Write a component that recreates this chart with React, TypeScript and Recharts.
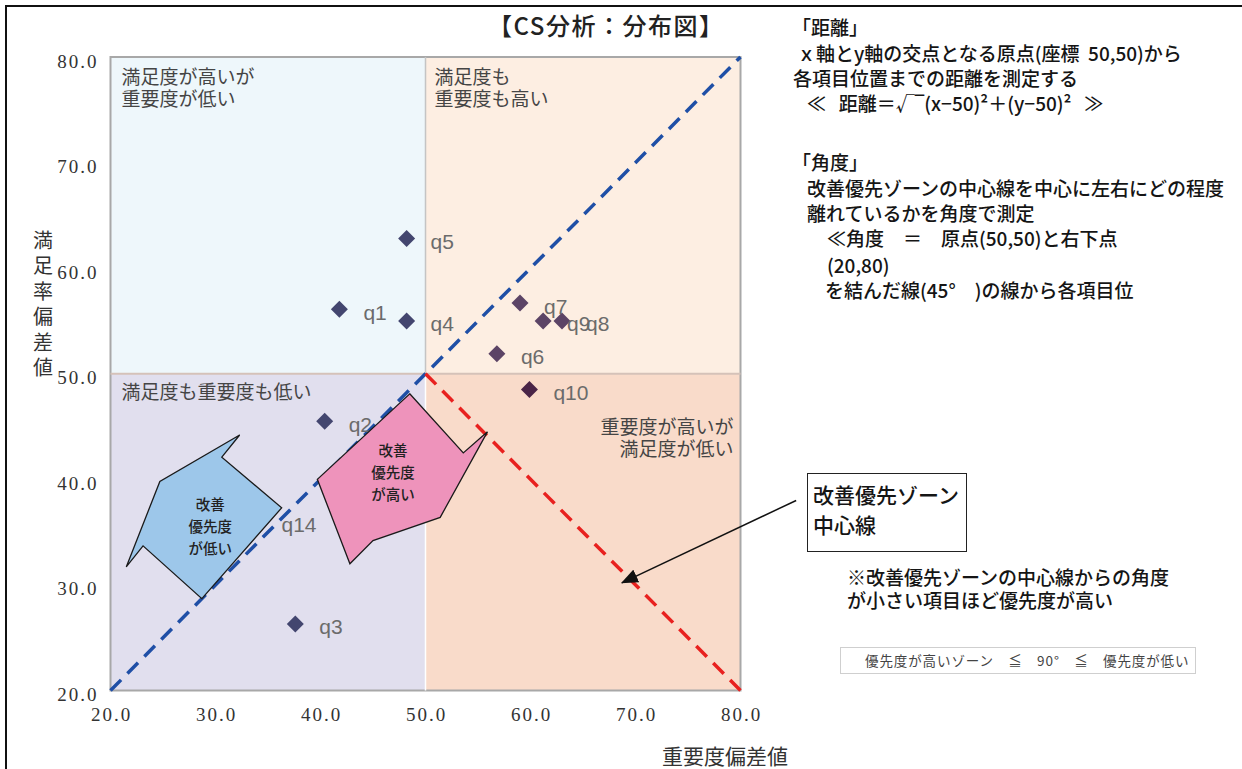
import { ScatterChart, Scatter, XAxis, YAxis, ReferenceArea, ReferenceLine } from 'recharts'

const X_MIN = 20
const X_MAX = 80
const Y_MIN = 20
const Y_MAX = 80
const MID = 50
const axisTicks = [20, 30, 40, 50, 60, 70, 80]

// 重要度 (x) / 満足率 (y) deviation values per item
const itemNames = ['q1', 'q2', 'q3', 'q4', 'q5', 'q6', 'q7', 'q8', 'q9', 'q10', 'q14']
const importance = [41.8, 40.4, 37.6, 48.2, 48.2, 56.8, 59.0, 63.0, 61.2, 59.9, 34.0]
const satisfaction = [56.1, 45.5, 26.3, 55.0, 62.8, 51.9, 56.7, 55.0, 55.0, 48.5, 36.0]

// block arrows, in axis units
const lowArrowOutline: [number, number][] = [
    [32.3, 44.2], [30.6, 42.1], [36.3, 37.3], [28.7, 28.7], [23.1, 33.7], [21.5, 31.7], [24.7, 39.8],
]
const highArrowOutline: [number, number][] = [
    [48.5, 48.1], [53.6, 42.5], [55.9, 44.5], [51.4, 36.4], [45.0, 34.2], [42.8, 32.0], [39.7, 40.0],
]
const lowArrowText = ['改善', '優先度', 'が低い']
const highArrowText = ['改善', '優先度', 'が高い']
const lowArrowTextAt: [number, number] = [29.5, 35.6]
const highArrowTextAt: [number, number] = [46.9, 40.7]

// callout pointing at the zone centre line
const calloutFrom: [number, number] = [85.3, 38.0]
const calloutTo: [number, number] = [68.7, 30.2]

const quadrantTopLeft = ['満足度が高いが', '重要度が低い']
const quadrantTopRight = ['満足度も', '重要度も高い']
const quadrantBottomLeft = ['満足度も重要度も低い']
const quadrantBottomRight = ['重要度が高いが', '満足度が低い']

const notesDistance = [
    '「距離」',
    'ｘ軸とy軸の交点となる原点(座標  50,50)から',
    '各項目位置までの距離を測定する',
    '≪   距離＝√‾(x−50)²＋(y−50)²   ≫',
]
const notesAngle = [
    '「角度」',
    '改善優先ゾーンの中心線を中心に左右にどの程度',
    '離れているかを角度で測定',
    '≪角度　＝　原点(50,50)と右下点',
    '(20,80)',
    'を結んだ線(45°　)の線から各項目位',
]

const chartData = itemNames.map((name, i) => ({ name, x: importance[i], y: satisfaction[i] }))

const JP = '"Noto Sans CJK JP", "Noto Sans", sans-serif'
const SERIF = '"Liberation Serif", "DejaVu Serif", serif'

const CHART_W = 1242
const CHART_H = 769
const chartMargin = { top: 57, right: 501.5, bottom: 48.5, left: 50.5 }

function markerColor(x: number, y: number): string {
    if (x < MID) return '#43466f'
    if (y >= MID) return '#5c4466'
    return '#4a2447'
}

function Diamond(props: any) {
    const { cx, cy, payload } = props
    const r = 8.5
    return (
        <polygon
            points={`${cx},${cy - r} ${cx + r},${cy} ${cx},${cy + r} ${cx - r},${cy}`}
            fill={markerColor(payload.x, payload.y)}
        />
    )
}

function ItemLabel(props: any) {
    const { cx, cy, payload } = props
    return (
        <text x={cx + 24} y={cy + 3} dominantBaseline="central" fontFamily='"Liberation Sans", Arial, sans-serif' fontSize={21} fill="#6b6b6b">
            {payload.name}
        </text>
    )
}

function NoMark() {
    return <g />
}

function XTick(props: any) {
    const { x, y, payload } = props
    return (
        <text x={x + 1} y={y + 16} textAnchor="middle" dominantBaseline="central" fontFamily={SERIF} fontSize={19} letterSpacing={2} fill="#333">
            {payload.value.toFixed(1)}
        </text>
    )
}

function YTick(props: any) {
    const { x, y, payload } = props
    return (
        <text x={x - 4} y={y + 4} textAnchor="end" dominantBaseline="central" fontFamily={SERIF} fontSize={19} letterSpacing={2} fill="#333">
            {payload.value.toFixed(1)}
        </text>
    )
}

function PlotOverlay(props: any) {
    const { x, y, width, height } = props
    const px = (v: number) => x + ((v - X_MIN) / (X_MAX - X_MIN)) * width
    const py = (v: number) => y + ((Y_MAX - v) / (Y_MAX - Y_MIN)) * height
    const toPoints = (outline: [number, number][]) => outline.map(([a, b]) => `${px(a)},${py(b)}`).join(' ')

    const quadText = (lines: string[], ax: number, ay: number, anchor: 'start' | 'end') =>
        lines.map((t, i) => (
            <text key={t} x={ax} y={ay + i * 22} textAnchor={anchor} dominantBaseline="central" fontFamily={JP} fontSize={19} fill="#454545">
                {t}
            </text>
        ))

    const arrowText = (lines: string[], at: [number, number]) =>
        lines.map((t, i) => (
            <text key={t} x={px(at[0])} y={py(at[1]) + (i - 1) * 22} textAnchor="middle" dominantBaseline="central" fontFamily={JP} fontSize={14.5} fontWeight={500} fill="#222">
                {t}
            </text>
        ))

    return (
        <g>
            <defs>
                <marker id="callout-tip" markerWidth={17} markerHeight={14} refX={16} refY={7} orient="auto" markerUnits="userSpaceOnUse">
                    <path d="M0,0 L17,7 L0,14 z" fill="#111" />
                </marker>
            </defs>
            {quadText(quadrantTopLeft, px(X_MIN) + 11, py(Y_MAX) + 18, 'start')}
            {quadText(quadrantTopRight, px(MID) + 9, py(Y_MAX) + 18, 'start')}
            {quadText(quadrantBottomLeft, px(X_MIN) + 11, py(MID) + 17, 'start')}
            {quadText(quadrantBottomRight, px(X_MAX) - 7, py(MID) + 52, 'end')}

            <polygon points={toPoints(lowArrowOutline)} fill="#9dc7ea" stroke="#1a1a1a" strokeWidth={1.3} />
            <polygon points={toPoints(highArrowOutline)} fill="#ee93bb" stroke="#1a1a1a" strokeWidth={1.3} />
            {arrowText(lowArrowText, lowArrowTextAt)}
            {arrowText(highArrowText, highArrowTextAt)}

            <line
                x1={px(calloutFrom[0])}
                y1={py(calloutFrom[1])}
                x2={px(calloutTo[0])}
                y2={py(calloutTo[1])}
                stroke="#111"
                strokeWidth={1.5}
                markerEnd="url(#callout-tip)"
            />
        </g>
    )
}

const abs = (left: number, top: number, extra: any = {}) => ({
    position: 'absolute' as const,
    left,
    top,
    whiteSpace: 'pre' as const,
    ...extra,
})

export default function App() {
    const noteStyle = { fontFamily: JP, fontSize: 19, fontWeight: 500, color: '#151515', lineHeight: '24px' }
    const distanceLeft = [792, 797, 793, 807]
    const distanceTop = [27, 53, 78, 103]
    const angleLeft = [792, 807, 807, 827, 827, 825]
    const angleTop = [162, 188, 213, 238, 265, 290]

    return (
        <div style={{ position: 'absolute', left: 0, top: 0, width: CHART_W, height: CHART_H, background: '#fff', overflow: 'hidden' }}>
            {/* outer frame, open at right and bottom */}
            <div style={{ position: 'absolute', left: 5, top: 5, width: 1250, height: 780, borderTop: '2px solid #111', borderLeft: '2px solid #111' }} />

            <div style={abs(488, 10, { fontFamily: JP, fontSize: 24, fontWeight: 500, color: '#222', lineHeight: '30px', letterSpacing: 1.5 })}>
                【CS分析：分布図】
            </div>

            <div style={{ position: 'absolute', left: 0, top: 0 }}>
                <ScatterChart width={CHART_W} height={CHART_H} margin={chartMargin}>
                    <XAxis
                        type="number"
                        dataKey="x"
                        domain={[X_MIN, X_MAX]}
                        ticks={axisTicks}
                        axisLine={false}
                        tickLine={false}
                        height={30}
                        tick={<XTick />}
                        interval={0}
                    />
                    <YAxis
                        type="number"
                        dataKey="y"
                        domain={[Y_MIN, Y_MAX]}
                        ticks={axisTicks}
                        axisLine={false}
                        tickLine={false}
                        width={60}
                        tick={<YTick />}
                        interval={0}
                    />
                    <ReferenceArea x1={X_MIN} x2={MID} y1={MID} y2={Y_MAX} fill="#eef7fb" fillOpacity={1} stroke="none" />
                    <ReferenceArea x1={MID} x2={X_MAX} y1={MID} y2={Y_MAX} fill="#fdeee2" fillOpacity={1} stroke="none" />
                    <ReferenceArea x1={X_MIN} x2={MID} y1={Y_MIN} y2={MID} fill="#e1dfee" fillOpacity={1} stroke="none" />
                    <ReferenceArea x1={MID} x2={X_MAX} y1={Y_MIN} y2={MID} fill="#f9dbca" fillOpacity={1} stroke="none" />
                    <ReferenceLine segment={[{ x: MID, y: MID }, { x: MID, y: Y_MAX }]} stroke="#c4c4c4" strokeWidth={1.5} />
                    <ReferenceLine segment={[{ x: MID, y: Y_MIN }, { x: MID, y: MID }]} stroke="#ffffff" strokeWidth={1.5} />
                    <ReferenceLine segment={[{ x: X_MIN, y: MID }, { x: X_MAX, y: MID }]} stroke="#d5c2b9" strokeWidth={2} />
                    <ReferenceArea x1={X_MIN} x2={X_MAX} y1={Y_MIN} y2={Y_MAX} fill="none" stroke="#a8a8a8" strokeWidth={2} />

                    <ReferenceLine
                        segment={[{ x: X_MIN, y: Y_MIN }, { x: X_MAX, y: Y_MAX }]}
                        stroke="#1f4fa6"
                        strokeWidth={3.5}
                        strokeDasharray="15 9"
                    />
                    <ReferenceLine
                        segment={[{ x: MID, y: MID }, { x: X_MAX, y: Y_MIN }]}
                        stroke="#e8211f"
                        strokeWidth={3.5}
                        strokeDasharray="15 9"
                    />

                    <Scatter data={chartData} shape={<Diamond />} isAnimationActive={false} />
                    <Scatter data={chartData} shape={<ItemLabel />} isAnimationActive={false} />
                </ScatterChart>
            </div>

            {/* same axes again, transparent, so the arrows and callout sit above the markers */}
            <div style={{ position: 'absolute', left: 0, top: 0 }}>
                <ScatterChart width={CHART_W} height={CHART_H} margin={chartMargin}>
                    <XAxis type="number" dataKey="x" domain={[X_MIN, X_MAX]} ticks={axisTicks} axisLine={false} tickLine={false} tick={false} height={30} />
                    <YAxis type="number" dataKey="y" domain={[Y_MIN, Y_MAX]} ticks={axisTicks} axisLine={false} tickLine={false} tick={false} width={60} />
                    <Scatter data={chartData} shape={<NoMark />} isAnimationActive={false} />
                    <ReferenceArea
                        x1={X_MIN}
                        x2={X_MAX}
                        y1={Y_MIN}
                        y2={Y_MAX}
                        ifOverflow="visible"
                        shape={(p: any) => <PlotOverlay {...p} />}
                    />
                </ScatterChart>
            </div>

            {/* y axis title, one character per line */}
            <div style={abs(33, 227, { fontFamily: JP, fontSize: 20, color: '#333', lineHeight: '25.4px', whiteSpace: 'normal', width: 22 })}>
                {'満足率偏差値'.split('').map((c) => (
                    <div key={c}>{c}</div>
                ))}
            </div>

            <div style={abs(662, 745, { fontFamily: JP, fontSize: 21, color: '#333', lineHeight: '21px' })}>重要度偏差値</div>

            {notesDistance.map((t, i) => (
                <div key={t} style={abs(distanceLeft[i], distanceTop[i] - 12, noteStyle)}>{t}</div>
            ))}
            {notesAngle.map((t, i) => (
                <div key={t} style={abs(angleLeft[i], angleTop[i] - 12, noteStyle)}>{t}</div>
            ))}

            <div style={{ position: 'absolute', left: 807, top: 473, width: 158, height: 77, border: '1.5px solid #222' }} />
            <div style={abs(813, 479, { fontFamily: JP, fontSize: 21, fontWeight: 500, color: '#151515', lineHeight: '30px' })}>
                {'改善優先ゾーン\n中心線'}
            </div>

            <div style={abs(847, 565, { ...noteStyle, lineHeight: '23px' })}>
                {'※改善優先ゾーンの中心線からの角度\nが小さい項目ほど優先度が高い'}
            </div>

            <div style={{ position: 'absolute', left: 840, top: 647, width: 354, height: 25, border: '1px solid #cfcfcf' }} />
            <div style={abs(865, 651, { fontFamily: JP, fontSize: 13.5, color: '#444', lineHeight: '18px', letterSpacing: 0.9 })}>
                優先度が高いゾーン　≦　90°　≦　優先度が低い
            </div>
        </div>
    )
}
